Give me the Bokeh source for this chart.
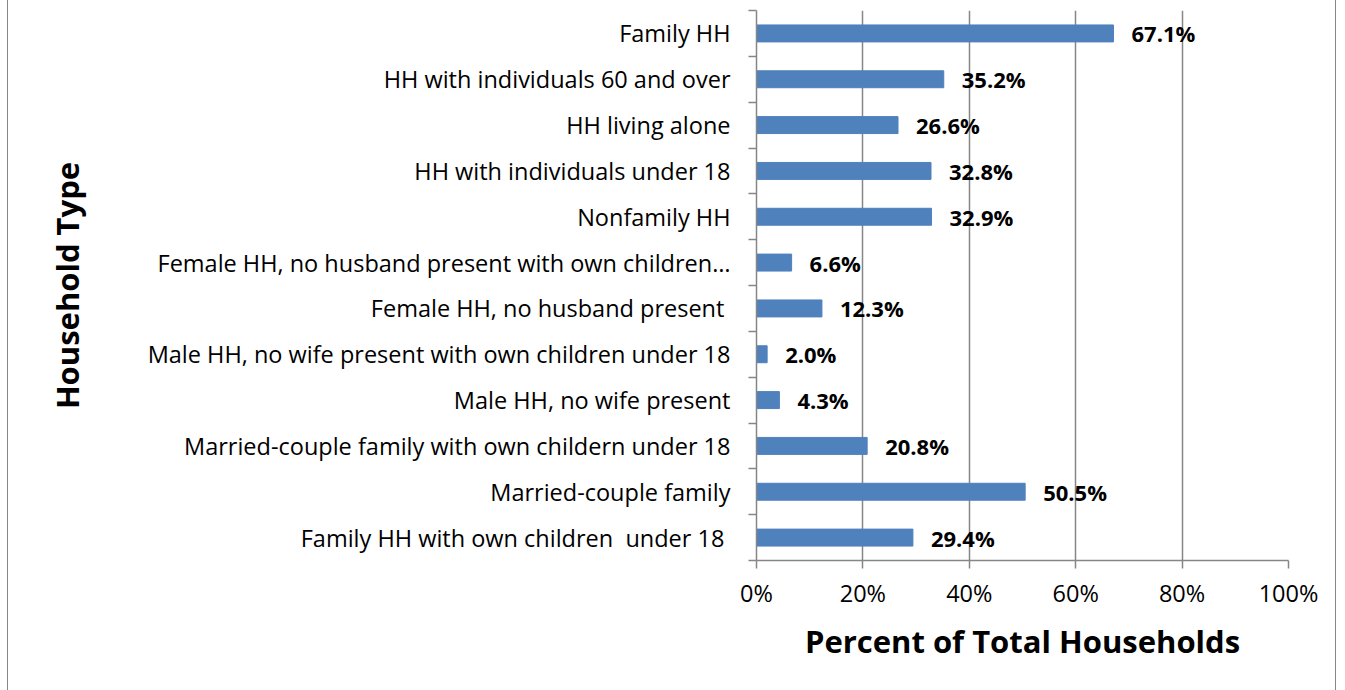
from bokeh.plotting import figure
from bokeh.models import FixedTicker, Range1d, ColumnDataSource
from bokeh.core.properties import value
from bokeh.embed import file_html
from bokeh.resources import INLINE

categories = [
    "Family HH",
    "HH with individuals 60 and over",
    "HH living alone",
    "HH with individuals under 18",
    "Nonfamily HH",
    "Female HH, no husband present with own children\u2026",
    "Female HH, no husband present\u00a0",
    "Male HH, no wife present with own children under 18",
    "Male HH, no wife present",
    "Married-couple family with own childern under 18",
    "Married-couple family",
    "Family HH with own children \u00a0under 18\u00a0",
]
percents = [67.1, 35.2, 26.6, 32.8, 32.9, 6.6, 12.3, 2.0, 4.3, 20.8, 50.5, 29.4]
x_ticks = [0, 20, 40, 60, 80, 100]

n = len(categories)
ypos = [n - 1 - i + 0.5 for i in range(n)]
labels = [f"{v:.1f}%" for v in percents]
src = ColumnDataSource(dict(y=ypos, v=percents, lab=labels))

FONT = "Open Sans"
GRAY = "#868686"

p = figure(width=1329, height=690, output_backend="svg", toolbar_location=None,
           x_range=Range1d(0, 100), y_range=Range1d(0, n),
           min_border_left=748, min_border_right=49, min_border_top=10, min_border_bottom=130)
p.outline_line_color = None
p.styles = {"margin-left": "7px", "border-left": f"1px solid {GRAY}",
            "border-right": f"1px solid {GRAY}"}

p.hbar(y="y", right="v", left=0, height=0.37, source=src, color="#4F81BD")
p.text(x="v", y="y", text="lab", source=src, x_offset=18, text_baseline="middle",
       text_align="left", text_font=value(FONT), text_font_style="bold",
       text_font_size="22px", text_color="black")

# x axis
p.xaxis.ticker = FixedTicker(ticks=x_ticks)
p.xaxis.major_label_overrides = {t: f"{t}%" for t in x_ticks}
p.xaxis.axis_line_color = GRAY
p.xaxis.axis_line_width = 1.5
p.xaxis.major_tick_line_color = GRAY
p.xaxis.major_tick_line_width = 1.5
p.xaxis.major_tick_out = 8
p.xaxis.major_tick_in = 0
p.xaxis.minor_tick_line_color = None
p.xaxis.major_label_text_font = FONT
p.xaxis.major_label_text_font_size = "23.5px"
p.xaxis.major_label_text_color = "black"
p.xaxis.major_label_standoff = 8
p.xaxis.axis_label = "Percent of Total Households"
p.xaxis.axis_label_text_font = FONT
p.xaxis.axis_label_text_font_size = "31px"
p.xaxis.axis_label_text_font_style = "bold"
p.xaxis.axis_label_text_color = "black"
p.xaxis.axis_label_standoff = 8

# y axis
p.yaxis.ticker = FixedTicker(ticks=ypos, minor_ticks=list(range(n + 1)))
p.yaxis.major_label_overrides = {y: c for y, c in zip(ypos, categories)}
p.yaxis.axis_line_color = GRAY
p.yaxis.axis_line_width = 1.5
p.yaxis.major_tick_line_color = None
p.yaxis.major_tick_out = 0
p.yaxis.major_tick_in = 0
p.yaxis.minor_tick_line_color = GRAY
p.yaxis.minor_tick_line_width = 1.5
p.yaxis.minor_tick_out = 8
p.yaxis.minor_tick_in = 0
p.yaxis.major_label_text_font = FONT
p.yaxis.major_label_text_font_size = "23.5px"
p.yaxis.major_label_text_color = "black"
p.yaxis.major_label_standoff = 18
p.yaxis.axis_label = "Household Type"
p.yaxis.axis_label_text_font = FONT
p.yaxis.axis_label_text_font_size = "31px"
p.yaxis.axis_label_text_font_style = "bold"
p.yaxis.axis_label_text_color = "black"
p.yaxis.axis_label_standoff = 57

p.xgrid.ticker = FixedTicker(ticks=x_ticks)
p.xgrid.grid_line_color = GRAY
p.xgrid.grid_line_width = 1.5
p.ygrid.grid_line_color = None

open("out.html", "w").write(file_html(p, INLINE))
